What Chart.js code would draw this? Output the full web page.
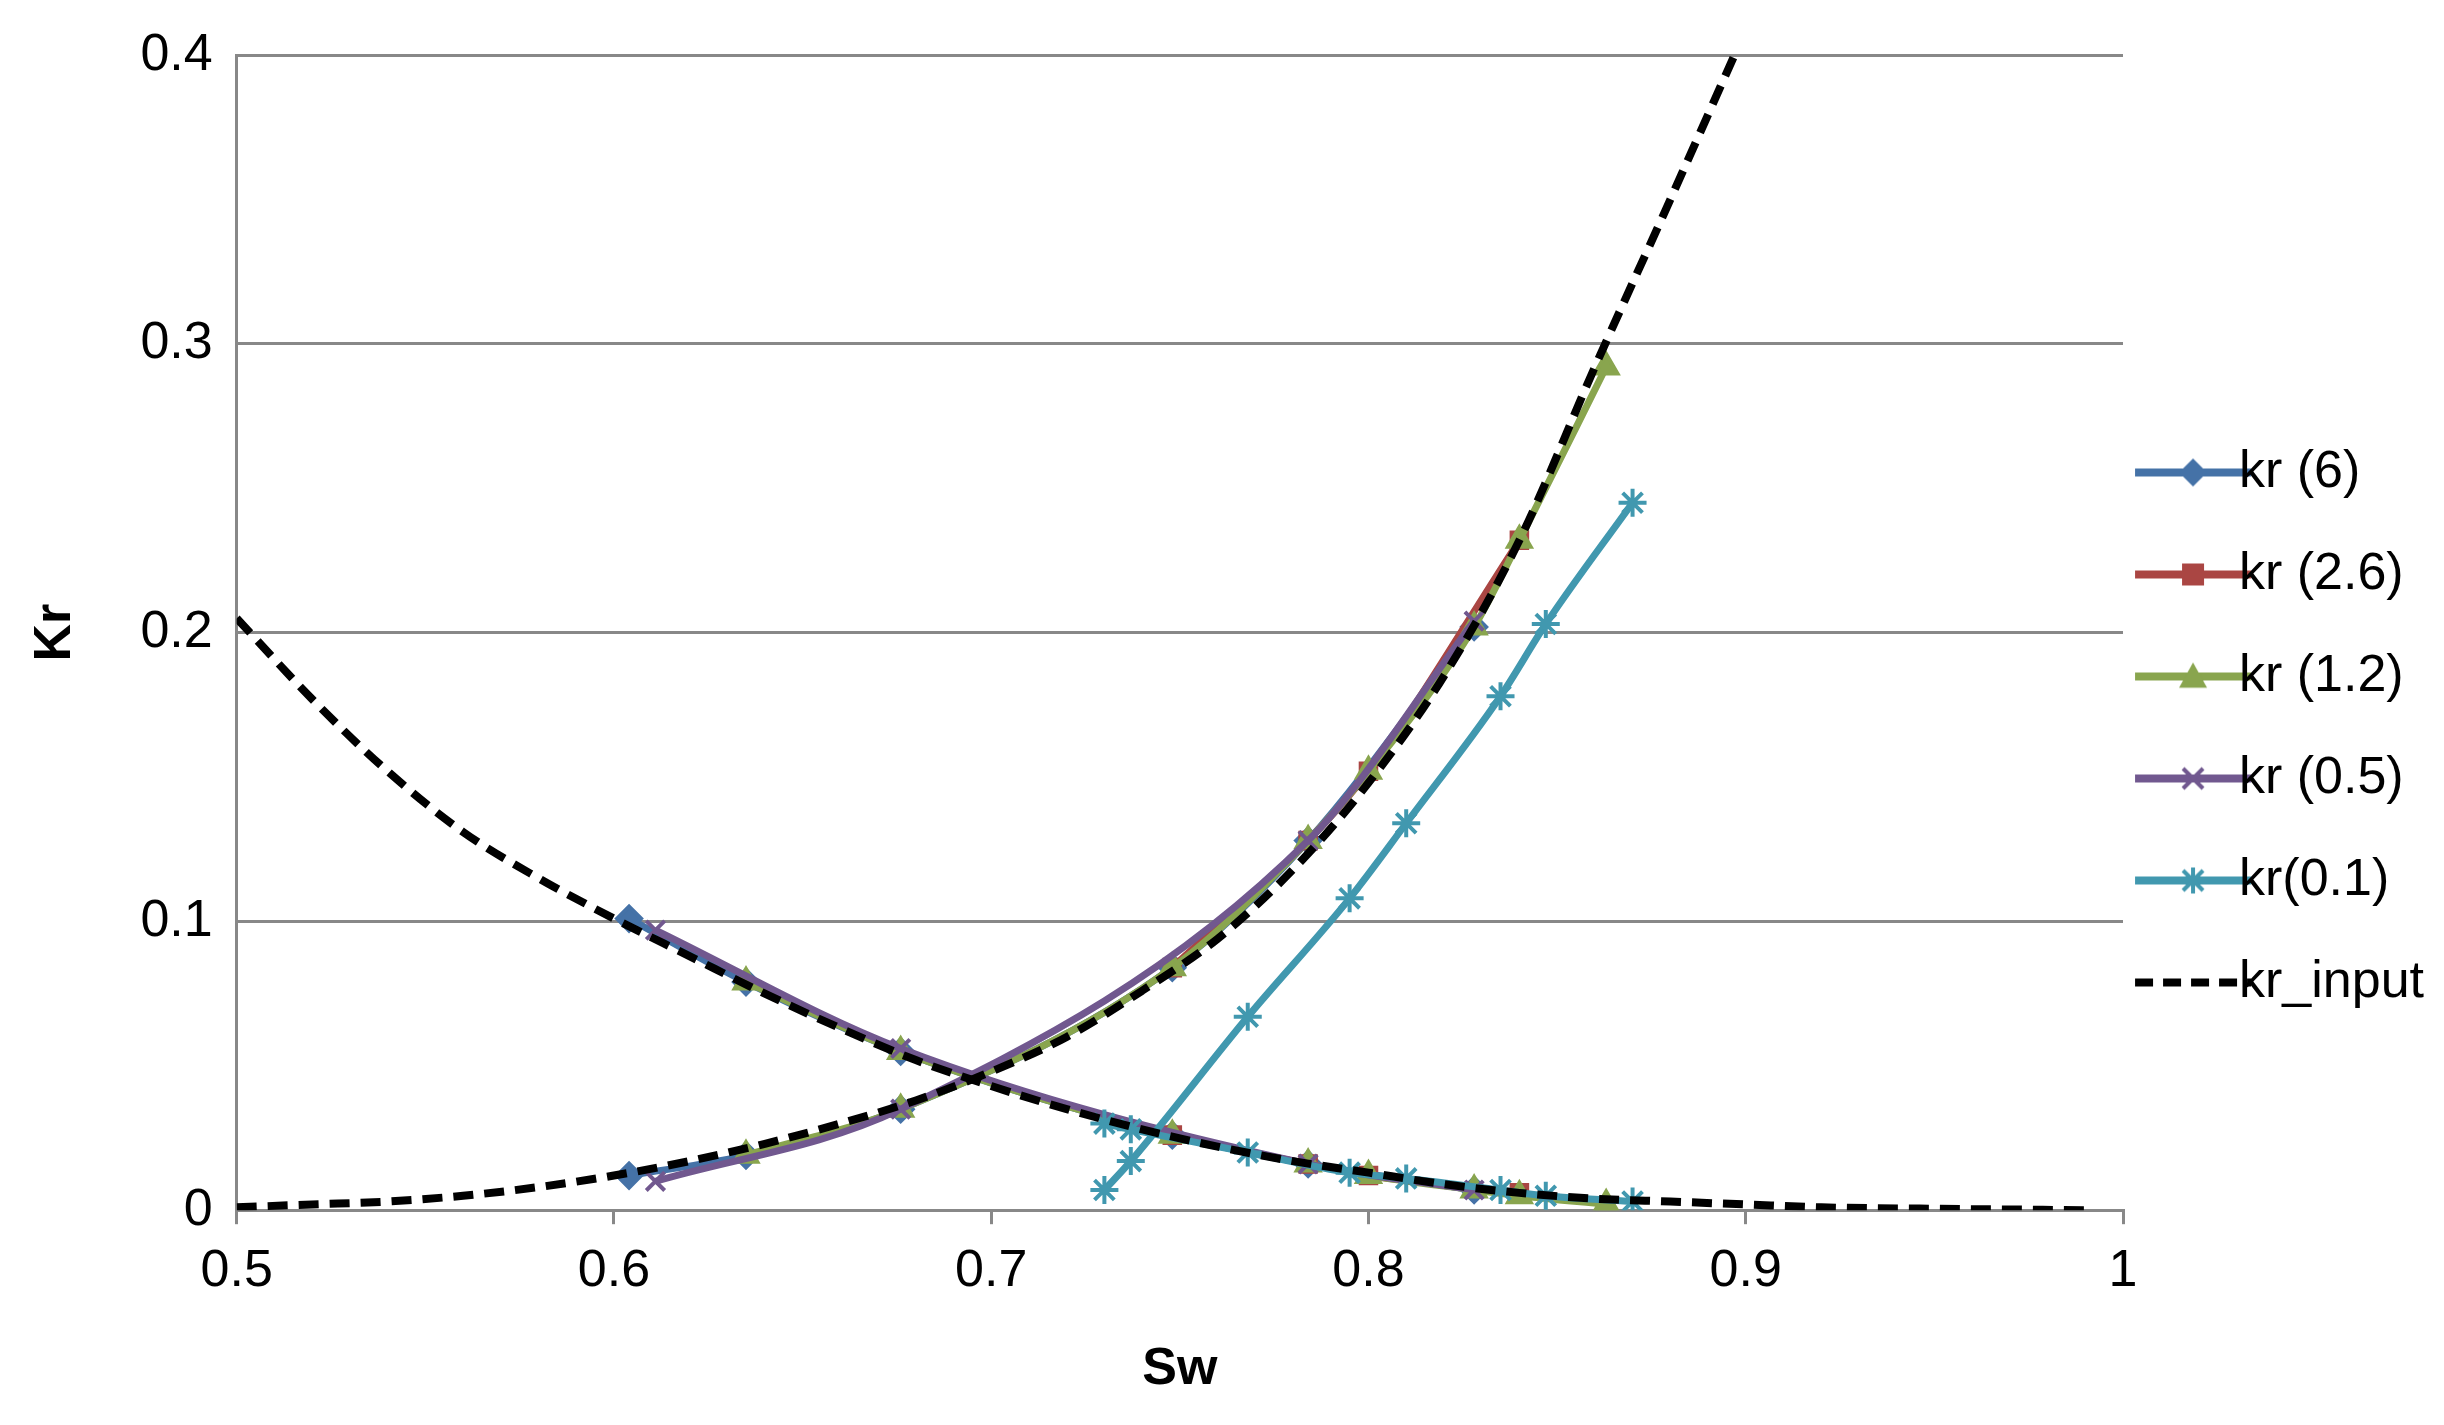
<!DOCTYPE html>
<html><head><meta charset="utf-8">
<script src="https://cdn.jsdelivr.net/npm/chart.js@4/dist/chart.umd.min.js"></script>
<style>html,body{margin:0;background:#fff}#w{width:2444px;height:1425px}</style>
</head><body><div id="w"><canvas id="c"></canvas></div>
<script>
const seriesLabels = ['kr (6)','kr (2.6)','kr (1.2)','kr (0.5)','kr(0.1)'];
const sw6 = [0.604,0.635,0.676,0.748,0.784,0.828];
const rise6 = [0.012,0.019,0.035,0.084,0.128,0.202];
const fall6 = [0.101,0.079,0.055,0.026,0.016,0.007];
const sw26 = [0.748,0.784,0.800,0.840];
const rise26 = [0.084,0.128,0.152,0.232];
const fall26 = [0.026,0.016,0.012,0.006];
const sw12 = [0.635,0.676,0.748,0.784,0.800,0.828,0.840,0.863];
const rise12 = [0.019,0.035,0.084,0.128,0.152,0.202,0.232,0.292];
const fall12 = [0.079,0.055,0.026,0.016,0.012,0.007,0.005,0.002];
const sw05 = [0.611,0.676,0.784,0.828];
const rise05 = [0.010,0.035,0.128,0.204];
const fall05 = [0.097,0.056,0.016,0.007];
const sw01 = [0.730,0.737,0.768,0.795,0.810,0.835,0.847,0.870];
const rise01 = [0.007,0.017,0.067,0.108,0.134,0.178,0.203,0.245];
const fall01 = [0.030,0.028,0.020,0.013,0.011,0.007,0.005,0.003];
const inSwR = [0.5,0.52,0.54,0.56,0.58,0.6,0.62,0.64,0.66,0.68,0.70,0.72,0.74,0.76,0.78,0.80,0.82,0.84,0.86,0.88,0.897];
const inRise = [0.001,0.002,0.003,0.005,0.008,0.012,0.017,0.023,0.030,0.038,0.048,0.060,0.076,0.094,0.118,0.148,0.185,0.232,0.292,0.350,0.400];
const inSwF = [0.5,0.52,0.54,0.56,0.58,0.6,0.62,0.64,0.66,0.68,0.70,0.72,0.74,0.76,0.78,0.80,0.82,0.84,0.86,0.88,0.90,0.92,0.95,0.99];
const inFall = [0.205,0.177,0.152,0.131,0.115,0.101,0.088,0.075,0.063,0.052,0.043,0.035,0.028,0.022,0.017,0.013,0.009,0.006,0.004,0.003,0.002,0.001,0.0005,0];

const pts=(xs,ys)=>xs.map((x,i)=>({x,y:ys[i]}));
const defs=[
 [sw6,rise6,fall6,'#4572A7','rectRot',12],
 [sw26,rise26,fall26,'#AA4643','rect',11],
 [sw12,rise12,fall12,'#89A54E','triangle',13],
 [sw05,rise05,fall05,'#71588F','crossRot',13],
 [sw01,rise01,fall01,'#4198AF','star',14]];

function legendIcon(color,shape,dashed){
  const c=document.createElement('canvas');c.width=120;c.height=40;
  const g=c.getContext('2d');g.strokeStyle=color;g.fillStyle=color;g.lineWidth=dashed?8:8;
  if(dashed)g.setLineDash([18,10]);
  g.beginPath();g.moveTo(2,20);g.lineTo(118,20);g.stroke();g.setLineDash([]);
  const x=60,y=20,r=14;g.lineWidth=4;g.beginPath();
  if(shape==='rectRot'){g.moveTo(x,y-r);g.lineTo(x+r,y);g.lineTo(x,y+r);g.lineTo(x-r,y);g.closePath();g.fill();}
  else if(shape==='rect'){g.fillRect(x-11,y-11,22,22);}
  else if(shape==='triangle'){g.moveTo(x,y-r);g.lineTo(x+r,y+r*0.8);g.lineTo(x-r,y+r*0.8);g.closePath();g.fill();}
  else if(shape==='crossRot'){g.moveTo(x-10,y-10);g.lineTo(x+10,y+10);g.moveTo(x+10,y-10);g.lineTo(x-10,y+10);g.stroke();}
  else if(shape==='star'){g.moveTo(x-10,y-10);g.lineTo(x+10,y+10);g.moveTo(x+10,y-10);g.lineTo(x-10,y+10);g.moveTo(x,y-13);g.lineTo(x,y+13);g.stroke();}
  return c;
}

const datasets=[];
defs.forEach((d,i)=>{
  const base={borderColor:d[3],backgroundColor:d[3],pointStyle:d[4],pointRadius:d[5],pointBorderWidth:4,borderWidth:7,showLine:true,cubicInterpolationMode:'monotone',order:-i};
  datasets.push(Object.assign({label:seriesLabels[i],data:pts(d[0],d[1]),icon:legendIcon(d[3],d[4])},base));
  datasets.push(Object.assign({label:'_'+seriesLabels[i],data:pts(d[0],d[2])},base));
});
const inBase={borderColor:'#000',backgroundColor:'#000',borderDash:[20,11],borderWidth:8,pointRadius:0,showLine:true,cubicInterpolationMode:'monotone',order:-10};
datasets.push(Object.assign({label:'kr_input',data:pts(inSwR,inRise),icon:legendIcon('#000',null,true)},inBase));
datasets.push(Object.assign({label:'_kr_input',data:pts(inSwF,inFall)},inBase));

const font={family:'Liberation Sans, Arial, sans-serif',size:52};
new Chart(document.getElementById('c'),{type:'scatter',data:{datasets},
options:{responsive:true,maintainAspectRatio:false,animation:false,
 layout:{padding:{top:50,right:10,left:20,bottom:20}},
 plugins:{legend:{position:'right',labels:{font,color:'#000',usePointStyle:true,padding:50,
   generateLabels:(ch)=>ch.data.datasets.map((ds,i)=>({text:ds.label,pointStyle:ds.icon,datasetIndex:i,fontColor:'#000',hidden:false,lineWidth:0})).filter(l=>!l.text.startsWith('_'))}},
  tooltip:{enabled:false}},
 scales:{
  x:{min:0.5,max:1,ticks:{stepSize:0.1,font,color:'#000',padding:16,callback:v=>Math.round(v*10)/10},
     grid:{drawOnChartArea:false,drawTicks:true,tickLength:14,color:'#888',lineWidth:3},border:{color:'#888',width:3},
     title:{display:true,text:'Sw',font:{...font,weight:'bold'},color:'#000',padding:{top:20}}},
  y:{min:0,max:0.4,ticks:{stepSize:0.1,font,color:'#000',padding:24,callback:v=>Math.round(v*10)/10},
     grid:{color:'#888',lineWidth:3,drawTicks:false},border:{color:'#888',width:3},
     title:{display:true,text:'Kr',font:{...font,weight:'bold'},color:'#000',padding:{bottom:30}}}
 }}});
</script></body></html>
